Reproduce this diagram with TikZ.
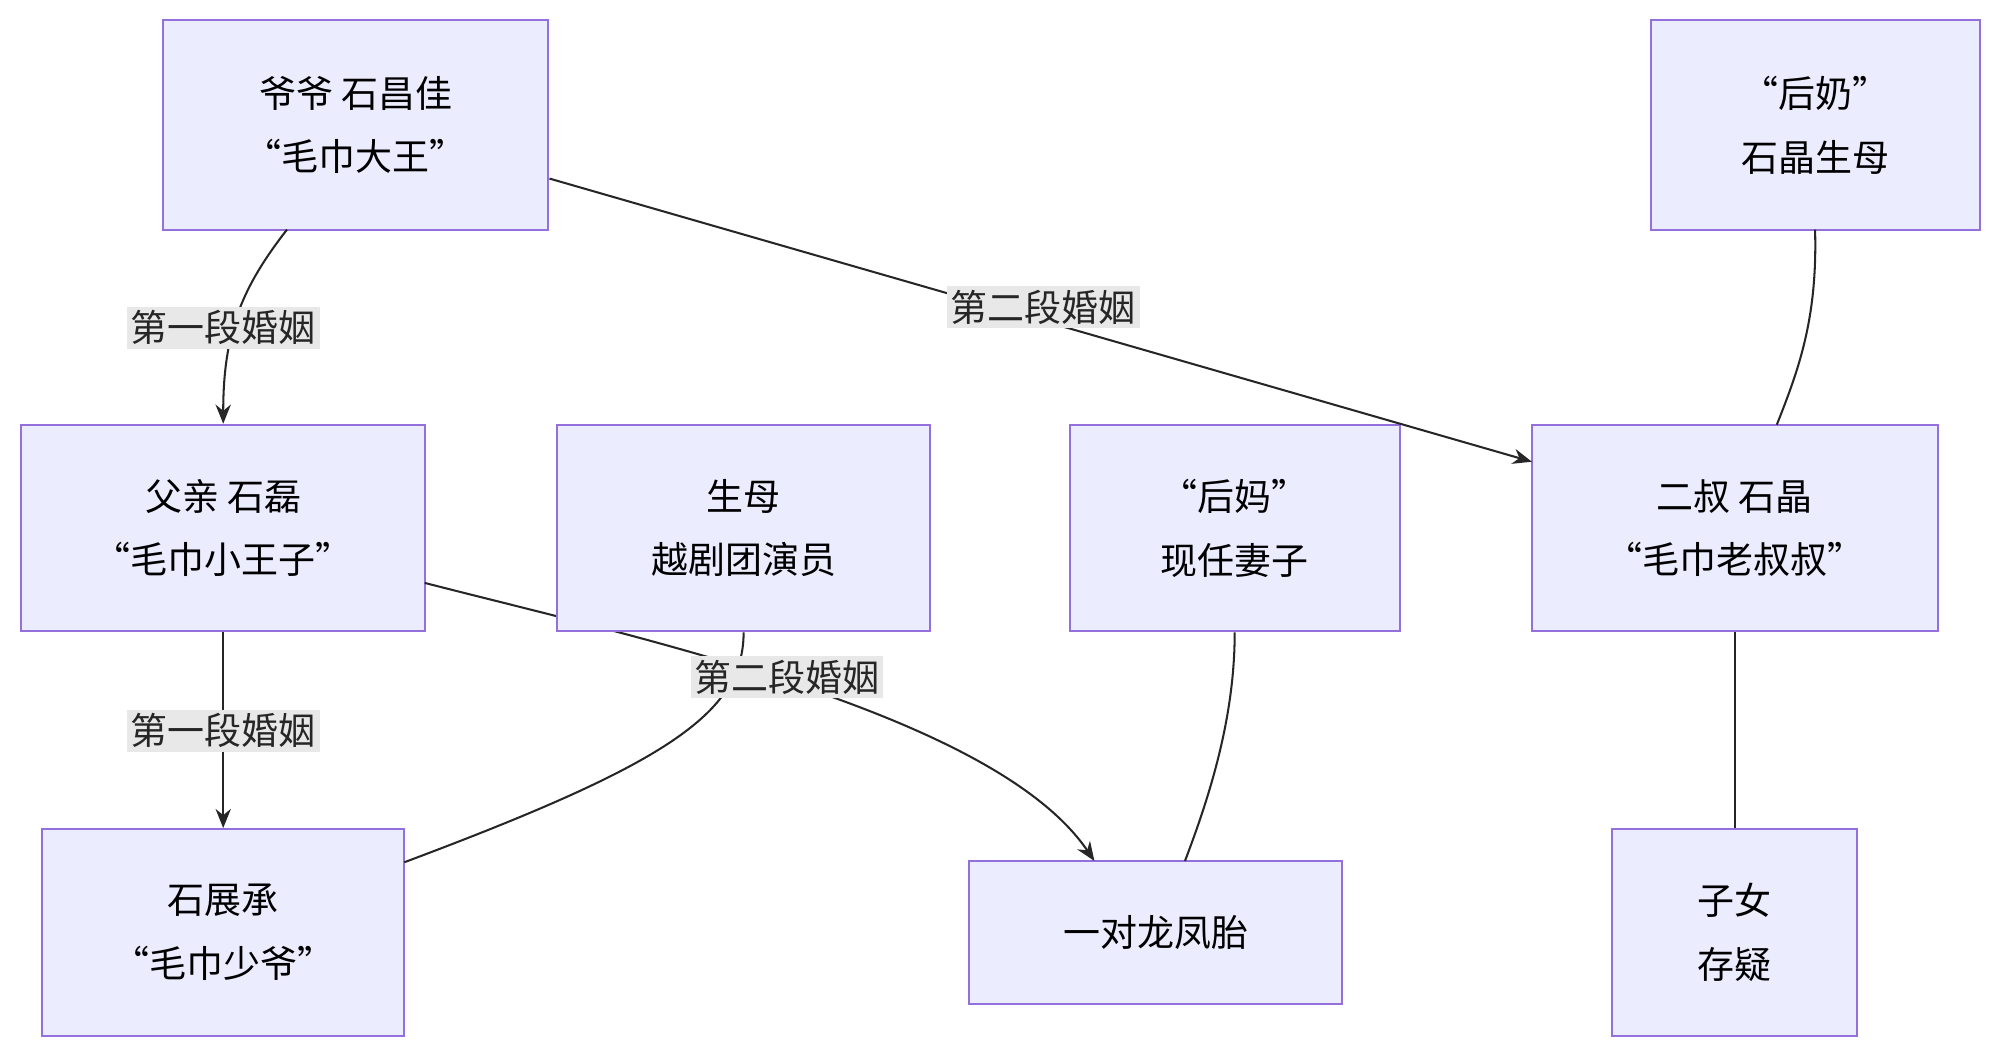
\documentclass[tikz,border=0pt]{standalone}
\usepackage{fontspec}
\setmainfont{Noto Sans CJK SC}
\usetikzlibrary{arrows.meta}
\begin{document}
\begin{tikzpicture}[x=1pt,y=-1pt,
  box/.style={draw={rgb,255:red,147;green,112;blue,219},line width=1.6pt,fill={rgb,255:red,236;green,236;blue,255},align=center,font=\fontsize{29}{50}\selectfont,inner sep=0pt,anchor=center},
  lab/.style={fill={rgb,255:red,232;green,232;blue,232},font=\fontsize{29}{34}\selectfont,inner sep=3pt,text=black!85},
  e/.style={draw=black!85,line width=1.6pt},
  ar/.style={e,-{Stealth[length=15pt,width=12pt]}}]
\useasboundingbox (0,0) rectangle (1568,829);
\node[box,minimum width=302pt,minimum height=164pt] (A) at (279,98) {爷爷 石昌佳\\“毛巾大王”};
\node[box,minimum width=258pt,minimum height=164pt] (B) at (1423,98) {“后奶”\\石晶生母};
\node[box,minimum width=317pt,minimum height=162pt] (C) at (175,414) {父亲 石磊\\“毛巾小王子”};
\node[box,minimum width=259pt,minimum height=162pt] (E) at (968,414) {“后妈”\\现任妻子};
\node[box,minimum width=318pt,minimum height=162pt] (F) at (1360,414) {二叔 石晶\\“毛巾老叔叔”};
\node[box,minimum width=284pt,minimum height=162pt] (G) at (175,731) {石展承\\“毛巾少爷”};
\node[box,minimum width=292pt,minimum height=112pt] (H) at (906,731) {一对龙凤胎};
\node[box,minimum width=192pt,minimum height=162pt] (I) at (1360,731) {子女\\存疑};
\draw[ar] (225,180) .. controls (190,225) and (175,260) .. (C.north);
\draw[ar] (A.east |- 0,140) -- (1201,362);
\draw[e] (1423,180) .. controls (1425,250) and (1410,290) .. (1393,333);
\draw[ar] (C.south) -- (G.north);
\draw[ar] (333,457) .. controls (500,500) and (780,560) .. (858,675);
\node[box,minimum width=292pt,minimum height=162pt] (D) at (583,414) {生母\\越剧团演员};
\draw[e] (D.south) .. controls (583,560) and (520,600) .. (317,676);
\draw[e] (E.south) .. controls (968,560) and (950,620) .. (929,675);
\draw[e] (F.south) -- (I.north);
\node[lab] (l1) at (175,257) {第一段婚姻};
\node[lab] (l2) at (818,241) {第二段婚姻};
\node[lab] (l3) at (175,573) {第一段婚姻};
\node[lab] (l4) at (617,531) {第二段婚姻};
\end{tikzpicture}
\end{document}
